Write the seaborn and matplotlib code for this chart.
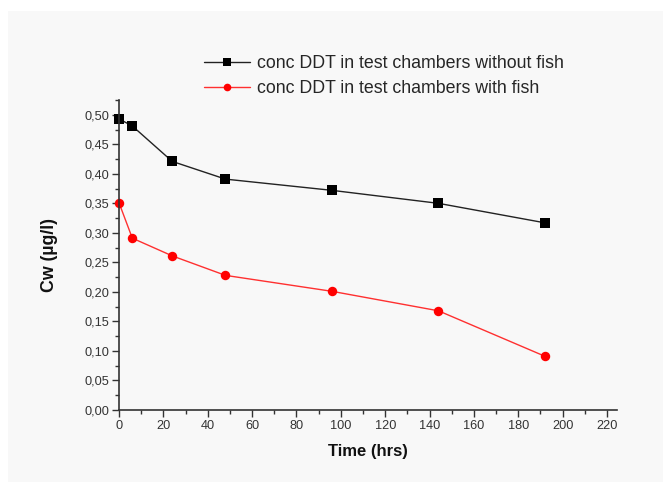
import matplotlib
matplotlib.use("Agg")
import matplotlib.pyplot as plt
from matplotlib.ticker import MultipleLocator, FuncFormatter
from matplotlib.patches import Rectangle
from matplotlib.lines import Line2D
import seaborn as sns
import pandas as pd

# Sampling times and measured water concentrations
time_hrs = [0, 6, 24, 48, 96, 144, 192]
cw_without_fish = [0.493, 0.481, 0.421, 0.391, 0.372, 0.350, 0.317]
cw_with_fish = [0.351, 0.291, 0.261, 0.228, 0.201, 0.168, 0.091]
series_names = ["conc DDT in test chambers without fish",
                "conc DDT in test chambers with fish"]

df = pd.concat([
    pd.DataFrame({"Time": time_hrs, "Cw": cw_without_fish, "series": series_names[0]}),
    pd.DataFrame({"Time": time_hrs, "Cw": cw_with_fish, "series": series_names[1]}),
])

sns.set_theme(style="white")
plt.rcParams["font.family"] = ["Liberation Sans", "DejaVu Sans"]

W, H = 663, 482
fig = plt.figure(figsize=(W / 100, H / 100), dpi=100)
fig.patch.set_facecolor("white")
# light grey panel behind the plot
fig.patches.append(Rectangle((8 / W, 0.5 / H), (W - 8) / W, (H - 11.5) / H,
                             transform=fig.transFigure, facecolor="#f8f8f8",
                             edgecolor="none", zorder=-10))

ax = fig.add_axes([119 / W, 1 - 410 / H, (617 - 119) / W, (410 - 100) / H])
ax.set_facecolor("none")
ax.set_zorder(5)

line_colors = ["#222222", "#ff3030"]
marker_colors = ["black", "red"]
marker_shapes = ["s", "o"]

sns.lineplot(data=df, x="Time", y="Cw", hue="series", style="series",
             palette=dict(zip(series_names, marker_colors)),
             markers=dict(zip(series_names, marker_shapes)),
             dashes=False, linewidth=1.0, markersize=6.8, markeredgewidth=0,
             ax=ax, legend=False)
lines = ax.get_lines()
for ln, lc, mc in zip(lines, line_colors, marker_colors):
    ln.set_color(lc)
    ln.set_markerfacecolor(mc)
    ln.set_clip_on(False)

ax.set_xlim(0, 224.5)
ax.set_ylim(0, 0.525)
ax.xaxis.set_minor_locator(MultipleLocator(10))
ax.yaxis.set_minor_locator(MultipleLocator(0.025))
ax.set_xticks([t for t in range(0, 221, 20)])
ax.set_yticks([i * 0.05 for i in range(11)])
ax.yaxis.set_major_formatter(FuncFormatter(lambda v, p: f"{v:.2f}".replace(".", ",")))
ax.xaxis.set_major_formatter(FuncFormatter(lambda v, p: f"{v:.0f}"))

for side in ("top", "right"):
    ax.spines[side].set_visible(False)
for side in ("left", "bottom"):
    ax.spines[side].set_color("#333333")
    ax.spines[side].set_linewidth(1.2)

ax.tick_params(which="major", direction="out", length=5, width=1, color="#333333",
               labelsize=9.2, labelcolor="#333333", pad=2,
               bottom=True, left=True)
ax.tick_params(which="minor", direction="out", length=3, width=1, color="#333333",
               bottom=True, left=True)

ax.set_xlabel("Time (hrs)", fontsize=12, fontweight="bold", color="#111111", labelpad=9)
ax.set_ylabel("Cw (µg/l)", fontsize=12.8, fontweight="bold", color="#111111", labelpad=19)

# legend keys with smaller markers
handles = [Line2D([], [], color=lc, marker=m, markerfacecolor=mc,
                  markeredgewidth=0, markersize=5.5, linewidth=1.0)
           for lc, mc, m in zip(line_colors, marker_colors, marker_shapes)]
leg = fig.legend(handles=handles, labels=series_names, loc="upper left",
                 bbox_to_anchor=(197 / W, 1 - 48 / H), frameon=False,
                 fontsize=12.8, handlelength=2.6, handletextpad=0.4,
                 labelspacing=0.45, borderaxespad=0)

fig.savefig("out.png", dpi=100)
